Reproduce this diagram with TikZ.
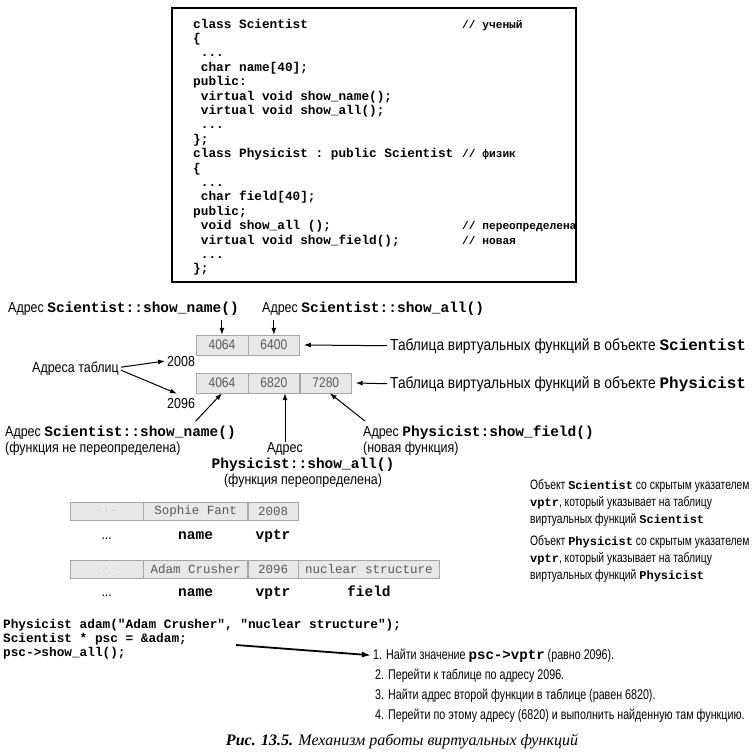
\documentclass[tikz,border=0pt]{standalone}
\usepackage{fontspec}
\setmainfont{Liberation Sans}[FakeStretch=0.86]
\setmonofont{Liberation Mono}
\newfontfamily\capfont{Liberation Serif}
\newfontfamily\stepfont{Liberation Sans}[FakeStretch=0.76]
\usetikzlibrary{arrows.meta,positioning}

\newcommand\codew[1]{{\ttfamily\bfseries #1}}
\newcommand\codes[1]{{\fontsize{12}{17}\ttfamily\bfseries #1}}

\tikzset{
  codeln/.style={font=\fontsize{12.75}{14.4}\ttfamily\bfseries, inner sep=0pt, anchor=base west},
  cmtln/.style={codeln, font=\fontsize{11.2}{14.4}\ttfamily\bfseries},
  lbl/.style={font=\fontsize{14.5}{17}\selectfont, inner sep=0pt, anchor=base west},
  biglbl/.style={lbl, font=\fontsize{16}{18}\selectfont},
  objtxt/.style={font=\fontsize{13.6}{17}\stepfont, inner sep=0pt, anchor=north west, align=left},
  steptxt/.style={font=\fontsize{14.1}{16}\stepfont, inner sep=0pt, anchor=base west},
  vcell/.style={draw=gray!70, fill=gray!18, minimum width=51.5pt, minimum height=20pt,
    inner sep=0pt, text=gray!70!black, font=\fontsize{14}{16}\selectfont},
  ocell/.style={vcell, minimum height=18pt, font=\fontsize{12.5}{14}\ttfamily},
  arr/.style={-{Latex[length=7pt,width=5pt]}, line width=1pt}
}

\begin{document}
\begin{tikzpicture}[x=1pt,y=-1pt]
\useasboundingbox (0,0) rectangle (753,755);
%%% class declarations in the frame
\draw[line width=2pt] (172,8) rectangle (576,282);
\node[codeln] (c0) at (193,28) {class Scientist};
\node[codeln] (c1) at (193,42.4) {\{};
\node[codeln] (c2) at (193,56.8) {\ ...};
\node[codeln] (c3) at (193,71.2) {\ char name[40];};
\node[codeln] (c4) at (193,85.6) {public:};
\node[codeln] (c5) at (193,100) {\ virtual void show\_name();};
\node[codeln] (c6) at (193,114.4) {\ virtual void show\_all();};
\node[codeln] (c7) at (193,128.8) {\ ...};
\node[codeln] (c8) at (193,143.2) {\};};
\node[codeln] (c9) at (193,157.6) {class Physicist : public Scientist};
\node[codeln] (c10) at (193,172) {\{};
\node[codeln] (c11) at (193,186.4) {\ ...};
\node[codeln] (c12) at (193,200.8) {\ char field[40];};
\node[codeln] (c13) at (193,215.2) {public;};
\node[codeln] (c14) at (193,229.6) {\ void show\_all ();};
\node[codeln] (c15) at (193,244) {\ virtual void show\_field();};
\node[codeln] (c16) at (193,258.4) {\ ...};
\node[codeln] (c17) at (193,272.8) {\};};
%%% comments of the code
\node[cmtln] (cm0) at (462,28) {// ученый};
\node[cmtln] (cm9) at (462,157.6) {// физик};
\node[cmtln] (cm14) at (462,229.6) {// переопределена};
\node[cmtln] (cm15) at (462,244) {// новая};
%%% the two tables of virtual functions
\node[vcell, anchor=west] (t1a) at (196,345) {4064};
\node[vcell, right=0pt of t1a] (t1b) {6400};
\node[vcell, anchor=west] (t2a) at (196,383) {4064};
\node[vcell, right=0pt of t2a] (t2b) {6820};
\node[vcell, right=0pt of t2b] (t2c) {7280};
%%% labels round the tables
\node[lbl] (adrSn) at (8,312) {Адрес \codew{Scientist::show\_name()}};
\node[lbl] (adrSa) at (262,312) {Адрес \codew{Scientist::show\_all()}};
\node[biglbl] (tabS) at (390,350) {Таблица виртуальных функций в объекте \codew{Scientist}};
\node[biglbl] (tabP) at (390,388) {Таблица виртуальных функций в объекте \codew{Physicist}};
\node[lbl] (n2008) at (167,366) {2008};
\node[lbl] (n2096) at (167,408) {2096};
\node[lbl] (adrT) at (32,372) {Адреса таблиц};
\node[lbl] (adrPn) at (5,436) {Адрес \codew{Scientist::show\_name()}};
\node[lbl] (notov) at (5,452) {(функция не переопределена)};
\node[lbl, anchor=base] (adrPa) at (285,452) {Адрес};
\node[lbl, anchor=base] (phsa) at (303,468) {\codew{Physicist::show\_all()}};
\node[lbl, anchor=base] (ovr) at (303,484) {(функция переопределена)};
\node[lbl] (adrPf) at (363,436) {Адрес \codew{Physicist:show\_field()}};
\node[lbl] (newf) at (363,452) {(новая функция)};
%%% arrows into the tables
\draw[arr] ([yshift=15pt]t1a.north) -- (t1a.north);
\draw[arr] ([yshift=15pt]t1b.north) -- (t1b.north);
\draw[arr] ([xshift=-3pt]tabS.west) -- ([xshift=4pt]t1b.east);
\draw[arr] ([xshift=-3pt]tabP.west) -- ([xshift=4pt]t2c.east);
\draw[arr] ([xshift=2pt,yshift=1pt]adrT.east) -- ([xshift=-2pt]n2008.west);
\draw[arr] ([xshift=2pt,yshift=-2pt]adrT.east) -- ([xshift=10pt,yshift=4pt]n2096.north west);
\draw[arr] ([xshift=75pt,yshift=4pt]adrPn.north) -- (t2a.south);
\draw[arr] (adrPa.north) -- (adrPa.north |- t2b.south);
\draw[arr] ([xshift=2pt,yshift=4pt]adrPf.north west) -- ([xshift=4pt]t2c.south);
%%% objects with the hidden pointer
\node[ocell, minimum width=73pt, anchor=west, text=gray!40] (o1a) at (70,511) {...};
\node[ocell, minimum width=104pt, right=0pt of o1a] (o1b) {Sophie Fant};
\node[ocell, minimum width=50pt, right=0pt of o1b] (o1c) {2008};
\node[ocell, minimum width=73pt, anchor=west, text=gray!40] (o2a) at (70,569) {...};
\node[ocell, minimum width=104pt, right=0pt of o2a] (o2b) {Adam Crusher};
\node[ocell, minimum width=50pt, right=0pt of o2b] (o2c) {2096};
\node[ocell, minimum width=141pt, right=0pt of o2c] (o2d) {nuclear structure};
\node[lbl, anchor=base] (f1a) at (o1a.center |- 0,539) {...};
\node[lbl, anchor=base] (f1b) at (o1b.center |- 0,539) {\codew{name}};
\node[lbl, anchor=base] (f1c) at (o1c.center |- 0,539) {\codew{vptr}};
\node[lbl, anchor=base] (f2a) at (o2a.center |- 0,596) {...};
\node[lbl, anchor=base] (f2b) at (o2b.center |- 0,596) {\codew{name}};
\node[lbl, anchor=base] (f2c) at (o2c.center |- 0,596) {\codew{vptr}};
\node[lbl, anchor=base] (f2d) at (o2d.center |- 0,596) {\codew{field}};
\node[objtxt] (objS) at (530,479)
  {Объект \codes{Scientist} со скрытым указателем\\
   \codes{vptr}, который указывает на таблицу\\
   виртуальных функций \codes{Scientist}};
\node[objtxt] (objP) at (530,535)
  {Объект \codes{Physicist} со скрытым указателем\\
   \codes{vptr}, который указывает на таблицу\\
   виртуальных функций \codes{Physicist}};
%%% the call and its steps
\node[codeln] (k1) at (3,628) {Physicist adam("Adam Crusher", "nuclear structure");};
\node[codeln] (k2) at (3,642) {Scientist * psc = \&adam;};
\node[codeln] (k3) at (3,656) {psc->show\_all();};
\node[steptxt] (st1) at (373,659) {1. Найти значение \codew{psc->vptr} (равно 2096).};
\node[steptxt] (st2) at (375,679) {2. Перейти к таблице по адресу 2096.};
\node[steptxt] (st3) at (375,699) {3. Найти адрес второй функции в таблице (равен 6820).};
\node[steptxt] (st4) at (375,719) {4. Перейти по этому адресу (6820) и выполнить найденную там функцию.};
\coordinate (callpt) at (236,645);
\draw[-{Latex[length=9pt,width=6pt]}, line width=1.8pt] (callpt) -- ([xshift=-2pt]st1.west);
%%% caption
\node[inner sep=0pt, anchor=base] (cap) at (402,745)
  {\capfont\itshape\fontsize{16}{18}\selectfont\textbf{Рис. 13.5.} Механизм работы виртуальных функций};
\end{tikzpicture}
\end{document}
